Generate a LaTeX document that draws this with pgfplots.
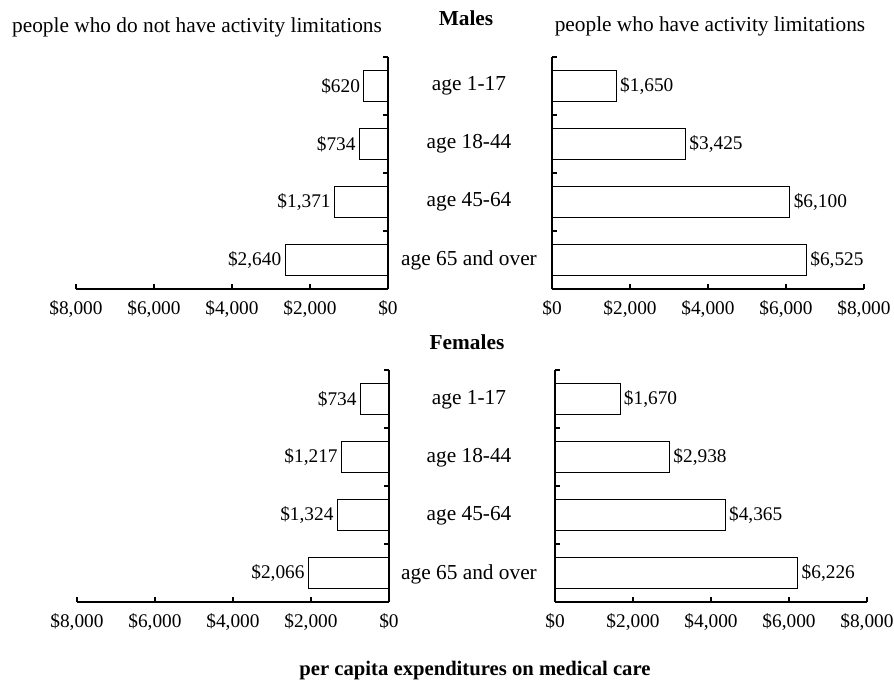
\documentclass[border=0pt]{standalone}
\usepackage{fontspec}
\setmainfont{Liberation Serif}
\usepackage{pgfplots}
\pgfplotsset{compat=1.18}

\newcommand{\lbl}{\fontsize{14.5}{16}\selectfont}
\newcommand{\txt}{\fontsize{16}{18}\selectfont}

\pgfplotsset{
  panel/.style={
    xbar, scale only axis, width=234pt, height=174pt,
    xmin=0, xmax=8000, ymin=-0.5, ymax=3.5, y dir=reverse,
    bar width=0.52,
    ytick={-0.5,0.5,1.5,2.5,3.5}, yticklabels={},
    xtick={0,2000,4000,6000,8000},
    xticklabels={{\$0},{\$2,000},{\$4,000},{\$6,000},{\$8,000}},
    tick align=inside, major tick length=4pt,
    tick style={black, line width=0.8pt},
    axis x line*=bottom,
    axis line style={black, line width=0.8pt, -},
    ticklabel style={font=\lbl},
    xticklabel style={yshift=-5pt},
    point meta=x,
    nodes near coords={\$\pgfmathprintnumber{\pgfplotspointmeta}},
    /pgf/number format/fixed,
    /pgf/number format/precision=0,
    /pgf/number format/1000 sep={,},
    /pgf/number format/assume math mode=true,
    every node near coord/.append style={font=\lbl, inner sep=2.5pt, text=black},
  },
  barstyle/.style={draw=black, fill=white, line width=0.8pt},
}

\begin{document}
\begin{tikzpicture}
\path[use as bounding box] (0pt,0pt) rectangle (670.5pt,-511.5pt);

% Males, no limitations
\begin{axis}[panel, at={(57pt,-216.75pt)}, anchor=south west,
  x dir=reverse, axis y line*=right,
  nodes near coords style={anchor=east}]
\addplot[barstyle] coordinates {(620,0) (734,1) (1371,2) (2640,3)};
\end{axis}

% Males, limitations
\begin{axis}[panel, at={(414pt,-216.75pt)}, anchor=south west,
  axis y line*=left,
  nodes near coords style={anchor=west}]
\addplot[barstyle] coordinates {(1650,0) (3425,1) (6100,2) (6525,3)};
\end{axis}

% Females, no limitations
\begin{axis}[panel, at={(57.75pt,-451.5pt)}, anchor=south west,
  x dir=reverse, axis y line*=right,
  nodes near coords style={anchor=east}]
\addplot[barstyle] coordinates {(734,0) (1217,1) (1324,2) (2066,3)};
\end{axis}

% Females, limitations
\begin{axis}[panel, at={(416.25pt,-451.5pt)}, anchor=south west,
  axis y line*=left,
  nodes near coords style={anchor=west}]
\addplot[barstyle] coordinates {(1670,0) (2938,1) (4365,2) (6226,3)};
\end{axis}

\begin{scope}[x=0.75pt, y=-0.75pt, every node/.style={font=\txt, inner sep=0pt}]
\node at (197,27) {people who do not have activity limitations};
\node at (710,26) {people who have activity limitations};
\node[font=\txt\bfseries] at (466,18) {Males};
\node[font=\txt\bfseries] at (467,342) {Females};
\node[font=\fontsize{15.5}{18}\selectfont\bfseries] at (475,671) {per capita expenditures on medical care};
\foreach \yy/\tx in {86/{age 1-17},144/{age 18-44},202/{age 45-64},260/{age 65 and over},
                     400/{age 1-17},458/{age 18-44},516/{age 45-64},574/{age 65 and over}}
  \node at (469,\yy) {\tx};
\end{scope}
\end{tikzpicture}
\end{document}
